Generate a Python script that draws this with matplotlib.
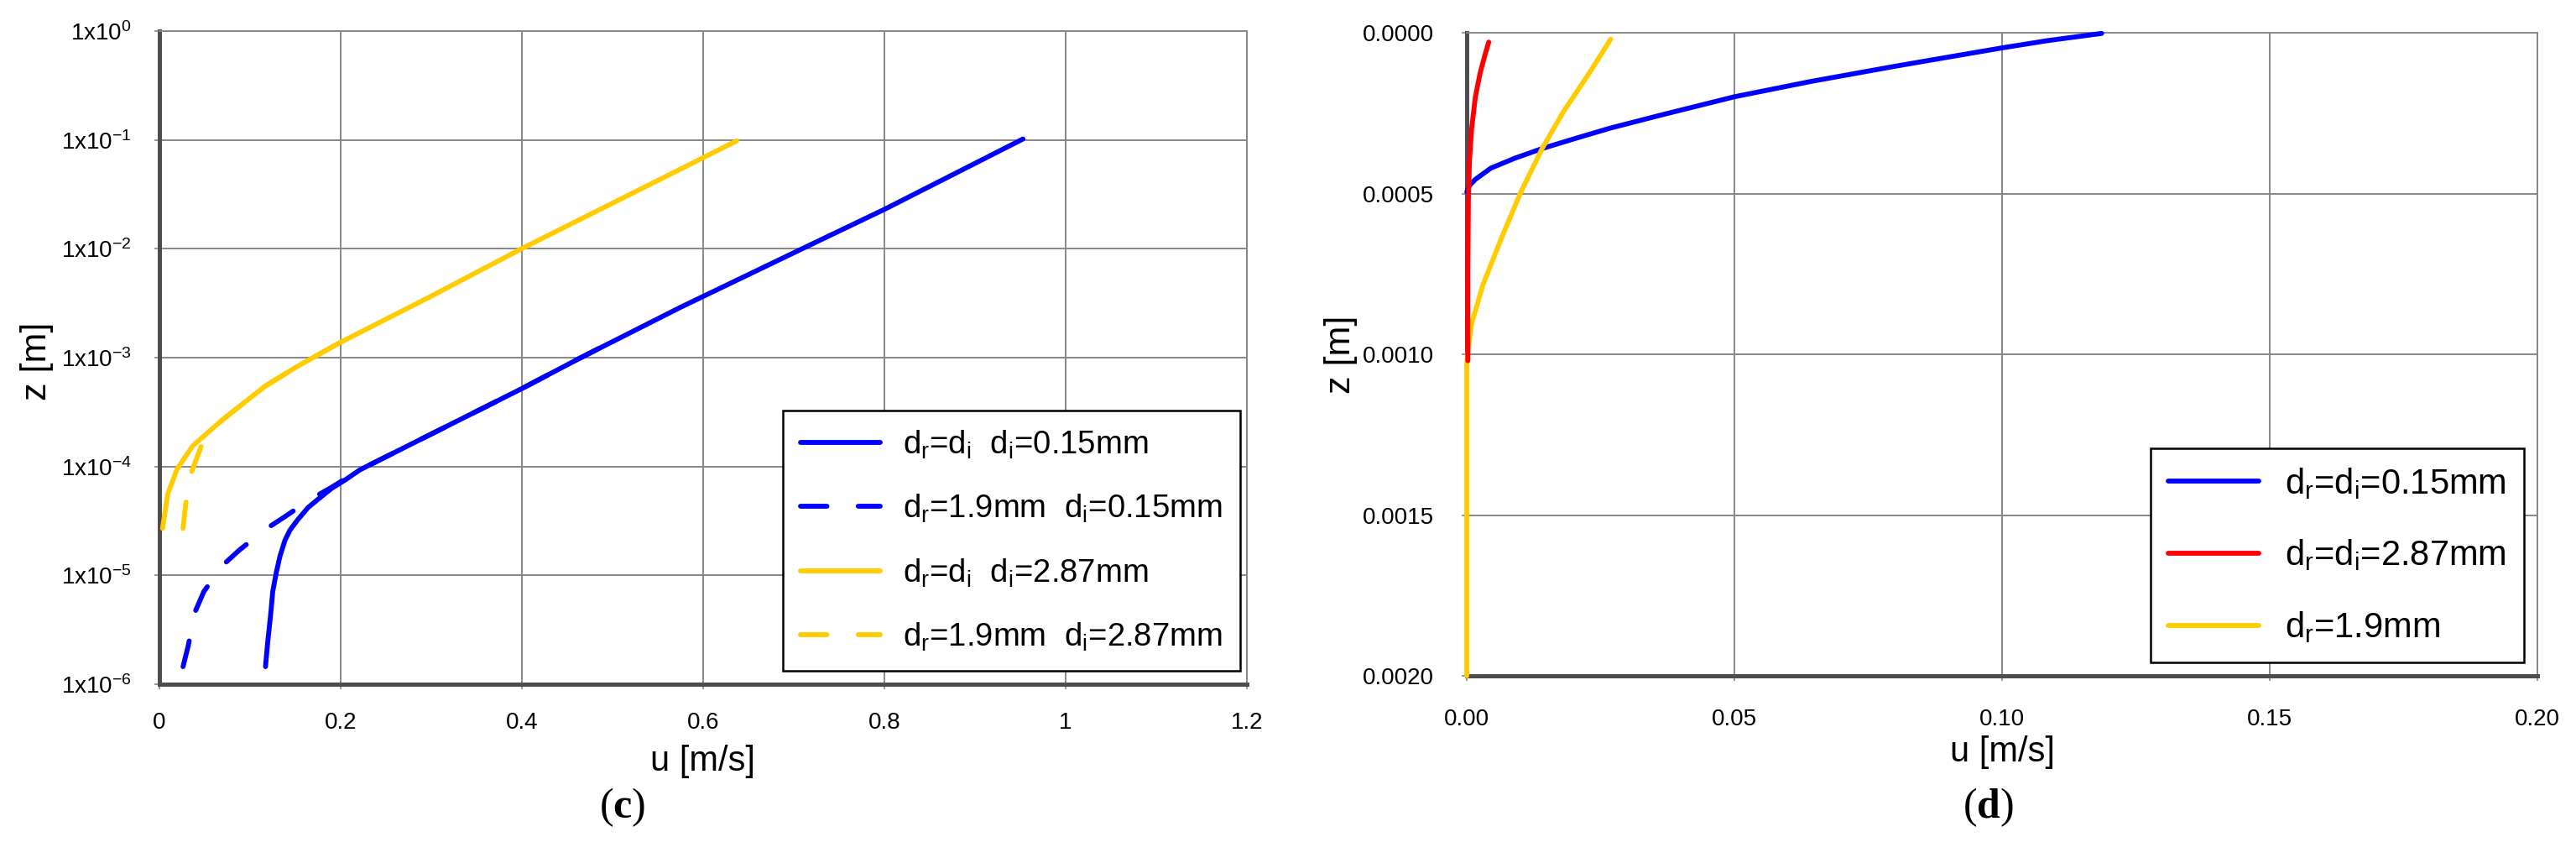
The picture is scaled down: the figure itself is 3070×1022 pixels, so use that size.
import matplotlib
matplotlib.use("Agg")
import matplotlib.pyplot as plt
from matplotlib.ticker import NullLocator

plt.rcParams["font.family"] = ["Liberation Sans", "DejaVu Sans"]
plt.rcParams["mathtext.fontset"] = "custom"
plt.rcParams["mathtext.rm"] = "Liberation Sans"
plt.rcParams["mathtext.it"] = "Liberation Sans:italic"
plt.rcParams["mathtext.bf"] = "Liberation Serif:bold"

BLUE = "#0000ff"
YELLOW = "#ffcc00"
RED = "#ff0000"
GRID = "#878787"
SPINE = "#4d4d4d"

# ---- panel (c): log-scale velocity profiles ----
c_blue_solid_u = [0.117, 0.1194, 0.121, 0.1232, 0.125, 0.129, 0.133, 0.1385, 0.144,
                  0.152, 0.164, 0.175, 0.190, 0.2057, 0.221, 0.298, 0.400, 0.463,
                  0.575, 0.707, 0.800, 0.953]
c_blue_solid_z = [1.45e-6, 2.4e-6, 3.2e-6, 4.8e-6, 7.1e-6, 1.07e-5, 1.5e-5, 2.1e-5,
                  2.6e-5, 3.2e-5, 4.2e-5, 5.0e-5, 6.3e-5, 7.6e-5, 9.3e-5, 1.95e-4,
                  5.2e-4, 9.8e-4, 2.9e-3, 9.8e-3, 2.3e-2, 0.102]

c_blue_dash_u = [0.026, 0.032, 0.0387, 0.049, 0.0694, 0.0879, 0.1155, 0.137, 0.1666,
                 0.188, 0.221, 0.298, 0.400, 0.463, 0.513]
c_blue_dash_z = [1.45e-6, 2.3e-6, 4.5e-6, 7.1e-6, 1.23e-5, 1.7e-5, 2.6e-5, 3.4e-5,
                 5.0e-5, 6.3e-5, 9.3e-5, 1.95e-4, 5.2e-4, 9.8e-4, 1.6e-3]

c_yellow_solid_u = [0.0034, 0.0092, 0.0195, 0.0368, 0.0675, 0.0906, 0.117, 0.152,
                    0.1995, 0.298, 0.3995, 0.565, 0.637]
c_yellow_solid_z = [2.7e-5, 5.6e-5, 9.5e-5, 1.55e-4, 2.6e-4, 3.7e-4, 5.5e-4, 8.3e-4,
                    1.38e-3, 3.6e-3, 1.0e-2, 4.9e-2, 9.8e-2]

c_yellow_dash_u = [0.026, 0.029, 0.035, 0.0444, 0.0515, 0.0675, 0.0906, 0.117, 0.152,
                   0.1995, 0.211]
c_yellow_dash_z = [2.7e-5, 4.5e-5, 8.7e-5, 1.41e-4, 2.0e-4, 2.6e-4, 3.7e-4, 5.5e-4,
                   8.3e-4, 1.38e-3, 1.62e-3]

c_labels = [r"d$_\mathregular{r}$=d$_\mathregular{i}$  d$_\mathregular{i}$=0.15mm",
            r"d$_\mathregular{r}$=1.9mm  d$_\mathregular{i}$=0.15mm",
            r"d$_\mathregular{r}$=d$_\mathregular{i}$  d$_\mathregular{i}$=2.87mm",
            r"d$_\mathregular{r}$=1.9mm  d$_\mathregular{i}$=2.87mm"]
c_xticks = [0, 0.2, 0.4, 0.6, 0.8, 1.0, 1.2]
c_xticklabels = ["0", "0.2", "0.4", "0.6", "0.8", "1", "1.2"]
c_yticks = [1e-6, 1e-5, 1e-4, 1e-3, 1e-2, 1e-1, 1e0]
c_yticklabels = [r"1x10$^{\mathregular{-6}}$", r"1x10$^{\mathregular{-5}}$",
                 r"1x10$^{\mathregular{-4}}$", r"1x10$^{\mathregular{-3}}$",
                 r"1x10$^{\mathregular{-2}}$", r"1x10$^{\mathregular{-1}}$",
                 r"1x10$^{\mathregular{0}}$"]

# ---- panel (d): linear near-surface profiles ----
d_blue_u = [0.0, 0.0005, 0.0016, 0.0045, 0.0090, 0.0141, 0.0200, 0.0267, 0.0365, 0.050,
            0.0644, 0.0804, 0.0865, 0.100, 0.1085, 0.1186]
d_blue_z = [0.000495, 0.000475, 0.000456, 0.000421, 0.000390, 0.000360, 0.000330,
            0.000297, 0.000255, 0.000199, 0.000151, 0.000103, 0.0000855, 0.000047,
            0.0000244, 0.000002]

d_red_u = [0.0002, 0.0002, 0.0003, 0.0005, 0.0009, 0.0016, 0.0025, 0.0033, 0.0041]
d_red_z = [0.00102, 0.00075, 0.00052, 0.00040, 0.00030, 0.00020, 0.000125, 0.000075,
           0.000029]

d_yellow_u = [0.0, 0.0, 0.0003, 0.00084, 0.0019, 0.00295, 0.00644, 0.0100, 0.01408,
              0.0180, 0.0229, 0.02688]
d_yellow_z = [0.0020, 0.00103, 0.00098, 0.000909, 0.000848, 0.000787, 0.000640, 0.000499,
              0.000360, 0.000247, 0.000125, 0.000020]

d_labels = [r"d$_\mathregular{r}$=d$_\mathregular{i}$=0.15mm",
            r"d$_\mathregular{r}$=d$_\mathregular{i}$=2.87mm",
            r"d$_\mathregular{r}$=1.9mm"]
d_xticks = [0.0, 0.05, 0.10, 0.15, 0.20]
d_xticklabels = ["0.00", "0.05", "0.10", "0.15", "0.20"]
d_yticks = [0.0, 0.0005, 0.0010, 0.0015, 0.0020]
d_yticklabels = ["0.0000", "0.0005", "0.0010", "0.0015", "0.0020"]


def style_axes(ax):
    ax.set_axisbelow(True)
    ax.grid(True, which="major", color=GRID, lw=1.4)
    for s in ("left", "bottom"):
        ax.spines[s].set_color(SPINE)
        ax.spines[s].set_linewidth(3.6)
    for s in ("top", "right"):
        ax.spines[s].set_color(GRID)
        ax.spines[s].set_linewidth(1.4)
    ax.tick_params(axis="both", which="major", length=4, width=1.2, color=GRID,
                   labelsize=20)


fig = plt.figure(figsize=(30.70, 10.22), dpi=100)

line_kw = dict(lw=4.2, solid_capstyle="round", dash_capstyle="round",
               solid_joinstyle="round", clip_on=False, zorder=3)

# panel (c)
ax1 = fig.add_axes([0.0619, 0.2025, 0.4221, 0.7613])
ax1.plot(c_blue_solid_u, c_blue_solid_z, color=BLUE, label=c_labels[0], **line_kw)
ax1.plot(c_blue_dash_u, c_blue_dash_z, color=BLUE, dashes=(5.4, 6.4), label=c_labels[1], **line_kw)
ax1.plot(c_yellow_solid_u, c_yellow_solid_z, color=YELLOW, label=c_labels[2], **line_kw)
ax1.plot(c_yellow_dash_u, c_yellow_dash_z, color=YELLOW, dashes=(5.4, 6.4), label=c_labels[3], **line_kw)
ax1.set_yscale("log")
ax1.set_xlim(0, 1.2)
ax1.set_ylim(1e-6, 1)
ax1.set_xticks(c_xticks)
ax1.set_xticklabels(c_xticklabels)
ax1.set_yticks(c_yticks)
ax1.set_yticklabels(c_yticklabels)
ax1.yaxis.set_minor_locator(NullLocator())
style_axes(ax1)
ax1.tick_params(axis="x", pad=20)
ax1.tick_params(axis="y", pad=20)
ax1.set_xlabel("u [m/s]", fontsize=30, va="center")
ax1.xaxis.set_label_coords(0.5, -0.118)
ax1.set_ylabel("z [m]", fontsize=31, va="center")
ax1.yaxis.set_label_coords(-0.113, 0.495)
leg1 = ax1.legend(loc="lower right", bbox_to_anchor=(0.9938, 0.0206), borderaxespad=0,
                  fontsize=27.5, frameon=True, fancybox=False, framealpha=1,
                  edgecolor="black", handlelength=2.5, handletextpad=0.7,
                  labelspacing=1.0, borderpad=0.55)
leg1.get_frame().set_linewidth(1.8)

# panel (d)
ax2 = fig.add_axes([0.5694, 0.2123, 0.4156, 0.7495])
ax2.plot(d_blue_u, d_blue_z, color=BLUE, label=d_labels[0], **line_kw)
ax2.plot(d_yellow_u, d_yellow_z, color=YELLOW, label=d_labels[2], **line_kw)
ax2.plot(d_red_u, d_red_z, color=RED, label=d_labels[1], **line_kw)
ax2.set_xlim(0, 0.2)
ax2.set_ylim(0.002, 0)
ax2.set_xticks(d_xticks)
ax2.set_xticklabels(d_xticklabels)
ax2.set_yticks(d_yticks)
ax2.set_yticklabels(d_yticklabels)
style_axes(ax2)
ax2.tick_params(axis="x", pad=24)
ax2.tick_params(axis="y", pad=24)
ax2.set_xlabel("u [m/s]", fontsize=30, va="center")
ax2.xaxis.set_label_coords(0.5, -0.119)
ax2.set_ylabel("z [m]", fontsize=31, va="center")
ax2.yaxis.set_label_coords(-0.118, 0.5)
h, l = ax2.get_legend_handles_labels()
order = [0, 2, 1]
leg2 = ax2.legend([h[i] for i in order], [l[i] for i in order], loc="lower right",
                  bbox_to_anchor=(0.9875, 0.0209), borderaxespad=0, fontsize=30,
                  frameon=True, fancybox=False, framealpha=1, edgecolor="black",
                  handlelength=2.6, handletextpad=0.75, labelspacing=1.05, borderpad=0.5)
leg2.get_frame().set_linewidth(1.8)

# captions
fig.text(742 / 3070, 1 - 962 / 1022, r"($\mathbf{c}$)", fontsize=36, ha="center", va="center",
         family="Liberation Serif")
fig.text(2369 / 3070, 1 - 962 / 1022, r"($\mathbf{d}$)", fontsize=36, ha="center", va="center",
         family="Liberation Serif")

fig.savefig("out.png", dpi=100)
